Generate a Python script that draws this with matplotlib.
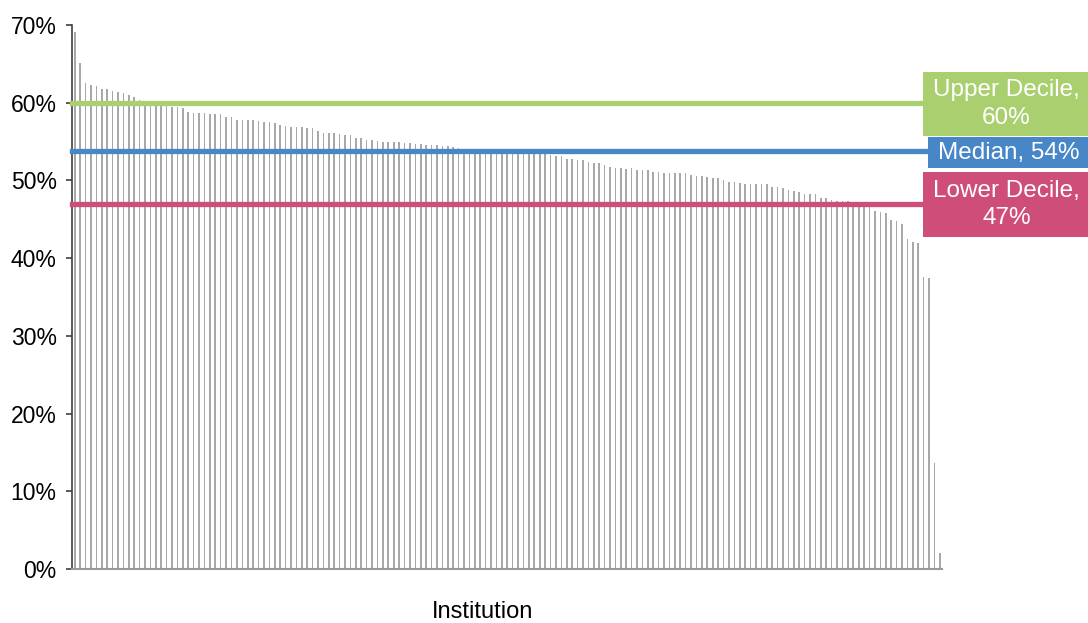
import numpy as np
import matplotlib.pyplot as plt
from matplotlib.patches import Rectangle

plt.rcParams['font.family'] = ['Liberation Sans', 'DejaVu Sans']

# share per institution (%), sorted high to low
values = [69.1, 65.1, 62.6, 62.3, 62.1, 61.8, 61.8, 61.5, 61.4, 61.2,
          61.0, 60.7, 60.3, 60.1, 59.9, 59.8, 59.7, 59.6, 59.5, 59.4,
          59.3, 58.8, 58.7, 58.7, 58.7, 58.6, 58.6, 58.5, 58.2, 58.1,
          57.8, 57.8, 57.8, 57.8, 57.6, 57.5, 57.5, 57.4, 57.1, 57.0,
          56.9, 56.9, 56.9, 56.8, 56.7, 56.3, 56.1, 56.1, 56.1, 56.0,
          55.9, 55.8, 55.5, 55.4, 55.2, 55.2, 55.1, 55.0, 55.0, 55.0,
          54.9, 54.8, 54.8, 54.7, 54.7, 54.6, 54.5, 54.5, 54.4, 54.4,
          54.3, 54.2, 54.1, 54.0, 54.0, 54.0, 53.9, 53.9, 53.9, 53.8,
          53.8, 53.8, 53.7, 53.7, 53.6, 53.6, 53.5, 53.4, 53.3, 53.2,
          53.2, 52.8, 52.7, 52.6, 52.6, 52.4, 52.2, 52.2, 52.0, 51.7,
          51.6, 51.6, 51.5, 51.6, 51.3, 51.3, 51.3, 51.1, 51.1, 51.0,
          51.0, 51.0, 50.9, 50.9, 50.7, 50.6, 50.6, 50.4, 50.3, 50.3,
          50.0, 49.8, 49.8, 49.7, 49.6, 49.6, 49.5, 49.5, 49.5, 49.2,
          49.2, 49.0, 48.8, 48.7, 48.5, 48.3, 48.3, 48.3, 47.7, 47.7,
          47.5, 47.3, 47.3, 47.3, 47.0, 47.0, 46.9, 46.8, 46.1, 46.0,
          45.8, 44.9, 44.8, 44.4, 42.5, 42.1, 41.9, 37.6, 37.5, 13.7,
          2.1]

upper_decile = 59.9
median = 53.8
lower_decile = 47.0

ref_lines = [upper_decile, median, lower_decile]
ref_labels = ['Upper Decile,\n60%', 'Median, 54%', 'Lower Decile,\n47%']
ref_colors = ['#a9cf6f', '#4786c7', '#cf4d79']

W, H = 1088, 623
fig = plt.figure(figsize=(W / 100, H / 100), dpi=100)
ax = fig.add_axes([72 / W, 1 - 569 / H, (942.5 - 72) / W, (569 - 25) / H])

x = np.arange(len(values))
ax.bar(x, values, width=0.3, color='#a8a8a8', edgecolor='none')
ax.set_xlim(-0.5, len(values) - 0.5)
ax.set_ylim(0, 70)
ax.set_yticks(np.arange(0, 71, 10))
ax.set_yticklabels([f'{t}%' for t in range(0, 71, 10)], fontsize=16.5)
ax.set_xticks([])
for s in ['top', 'right']:
    ax.spines[s].set_visible(False)
ax.spines['left'].set_color('#404040')
ax.spines['left'].set_linewidth(1.2)
ax.spines['bottom'].set_color('#9a9a9a')
ax.spines['bottom'].set_linewidth(1.5)
ax.tick_params(axis='y', length=4, color='#404040', width=1.2, pad=7)

fig.text(483 / W, 1 - 612 / H, 'Institution', fontsize=17, ha='center', va='center')

for val, col in zip(ref_lines, ref_colors):
    ax.plot([-0.5, len(values) + 5], [val, val], color=col, lw=3.8, clip_on=False, zorder=3)

# label boxes on the right (pixel coordinates from top-left)
boxes = [(923, 72, 136), (928, 137, 168), (923, 172, 237)]
for (x0, y0, y1), lab, col in zip(boxes, ref_labels, ref_colors):
    fig.patches.append(Rectangle((x0 / W, 1 - y1 / H), (W - x0) / W, (y1 - y0) / H,
                                 transform=fig.transFigure, facecolor=col,
                                 edgecolor='none', zorder=5))
    fig.text((x0 + W) / 2 / W + 1 / W, 1 - (y0 + y1) / 2 / H, lab, color='white',
             fontsize=17.5, ha='center', va='center', linespacing=1.32, zorder=6)

fig.savefig('out.png', dpi=100)
